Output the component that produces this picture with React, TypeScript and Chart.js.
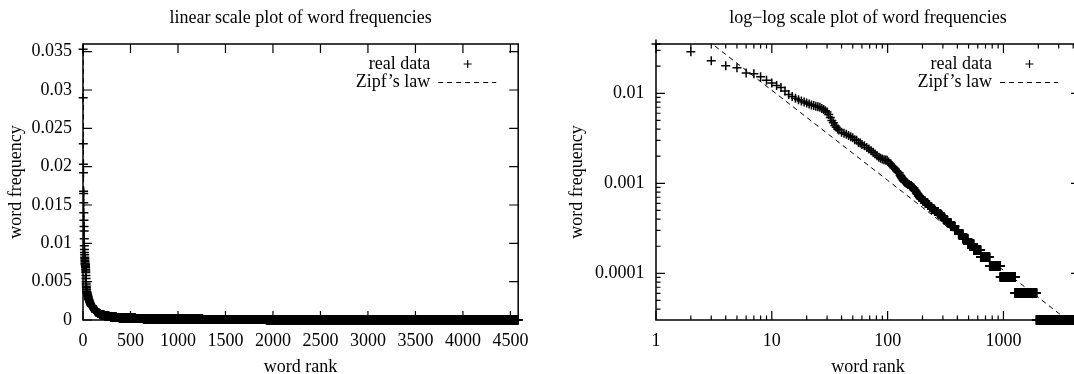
import React, { useEffect, useRef } from "react";
import { Chart, registerables } from "chart.js";

Chart.register(...registerables);

// ---------------- data ----------------
const TOTAL_WORDS = 33000; // word frequency = count / TOTAL_WORDS
const MAX_RANK = 4582;

// individually read head of the distribution (rank -> frequency)
const headRanks = [
  1, 2, 3, 4, 5, 6, 7, 8, 9, 10, 11, 12, 13, 14, 15, 16, 17, 18, 19, 20,
  21, 22, 23, 24, 25, 26, 27, 28, 29, 30, 31, 32, 33, 34, 35, 36, 37, 38,
  40, 42, 44, 46, 48, 50, 52, 54, 56, 58, 60, 63, 66, 69, 72, 75, 78, 81, 84, 87,
  90, 93, 96, 99, 102, 105, 108, 111, 114, 117, 120, 123, 126, 128,
];
const headFreqs = [
  0.0353, 0.029, 0.023, 0.0203, 0.0192, 0.0168, 0.0165, 0.0153, 0.014, 0.013,
  0.0122, 0.0116, 0.0106, 0.0097, 0.0092, 0.0088, 0.0085, 0.0082, 0.008, 0.0078,
  0.0076, 0.0074, 0.0073, 0.0072, 0.0071, 0.007, 0.0068, 0.0066, 0.0064, 0.0062,
  0.0058, 0.0054, 0.005, 0.0047, 0.0044, 0.0042, 0.004, 0.0039,
  0.0037, 0.0036, 0.0035, 0.0034, 0.0033, 0.0032, 0.00305, 0.003, 0.00285, 0.0028,
  0.0027, 0.00262, 0.0025, 0.0024, 0.0023, 0.00222, 0.00212, 0.00203, 0.00195, 0.0019,
  0.00186, 0.00183, 0.00181, 0.0018, 0.00172, 0.00165, 0.00159, 0.00154, 0.00148, 0.00142,
  0.00137, 0.00133, 0.0013, 0.00124,
];

// tail: plateaus of words sharing the same count (run-length: count, first rank)
const tailCounts = [
  40, 39, 38, 37, 36, 35, 34, 33, 32, 31, 30, 29, 28, 27, 26, 25, 24, 23, 22, 21,
  20, 19, 18, 17, 16, 15, 14, 13, 12, 11, 10, 9, 8, 7, 6, 5, 4, 3, 2, 1,
];
const tailStartRanks = [
  129, 131, 132, 134, 136, 138, 141, 145, 150, 155, 161, 165, 170, 173, 177, 180, 184, 189, 194, 201,
  211, 223, 231, 241, 255, 274, 290, 307, 328, 352, 381, 410, 447, 493, 554, 636, 760, 940, 1260, 1930,
];

// Zipf's law reference curve
const zipfRanks = [2.8, 3, 4, 5, 7, 10, 15, 20, 30, 50, 75, 100, 150, 200, 300, 500, 1000, 2000, 3000, 4582];
const zipfFreqs = [
  0.0386, 0.036, 0.027, 0.0216, 0.0154, 0.0108, 0.0072, 0.0054, 0.0036, 0.00216,
  0.00144, 0.00108, 0.00072, 0.00054, 0.00036, 0.000216, 0.000108, 0.000054, 0.000036, 0.0000236,
];

// axes
const linXTicks = [0, 500, 1000, 1500, 2000, 2500, 3000, 3500, 4000, 4500];
const linXLabels = ["0", "500", "1000", "1500", "2000", "2500", "3000", "3500", "4000", "4500"];
const linYTicks = [0, 0.005, 0.01, 0.015, 0.02, 0.025, 0.03, 0.035];
const linYLabels = ["0", "0.005", "0.01", "0.015", "0.02", "0.025", "0.03", "0.035"];
const logXTicks = [1, 10, 100, 1000];
const logXLabels = ["1", "10", "100", "1000"];
const logYTicks = [0.0001, 0.001, 0.01];
const logYLabels = ["0.0001", "0.001", "0.01"];

const LIN_Y_MAX = 0.036;
const LOG_Y_MAX = 0.0353;

const FONT_FAMILY = '"Liberation Serif", "Times New Roman", serif';
const FONT = { family: FONT_FAMILY, size: 18 };
const MARK_R = 4.5;
const MARK_W = 1.5;

function buildRealPoints() {
  const pts: { x: number; y: number }[] = [];
  headRanks.forEach((r, i) => pts.push({ x: r, y: headFreqs[i] }));
  tailCounts.forEach((c, i) => {
    const start = tailStartRanks[i];
    const end = i + 1 < tailStartRanks.length ? tailStartRanks[i + 1] - 1 : MAX_RANK;
    for (let r = start; r <= end; r++) pts.push({ x: r, y: c / TOTAL_WORDS });
  });
  return pts;
}

function buildZipfPoints() {
  return zipfRanks.map((r, i) => ({ x: r, y: zipfFreqs[i] }));
}

function axis(type: string, position: string, min: number, max: number, values: number[], labels: string[], pad: number, size: number) {
  return {
    type,
    position,
    min,
    max,
    bounds: "data",
    grid: { display: false, drawTicks: false },
    border: { display: false },
    ticks: {
      autoSkip: false,
      maxRotation: 0,
      minRotation: 0,
      padding: pad,
      color: "#000",
      font: FONT,
      callback: (_v: any, i: number) => labels[i],
    },
    afterBuildTicks: (s: any) => {
      s.ticks = values.map((v) => ({ value: v }));
    },
    afterFit: (s: any) => {
      if (s.isHorizontal()) s.height = size;
      else s.width = size;
      s.paddingLeft = 0;
      s.paddingRight = 0;
      s.paddingTop = 0;
      s.paddingBottom = 0;
    },
  };
}

type FrameCfg = {
  title: string;
  xTitle: string;
  yTitle: string;
  yTitleX: number;
  xMajor: number[];
  xMinor: number[];
  yMajor: number[];
  yMinor: number[];
};

function framePlugin(cfg: FrameCfg) {
  return {
    id: "gnuframe",
    afterDatasetsDraw(chart: any) {
      const { ctx, chartArea: a, scales } = chart;
      const xs = scales.x;
      const ys = scales.y;
      ctx.save();
      ctx.strokeStyle = "#000";
      ctx.fillStyle = "#000";
      ctx.setLineDash([]);

      // ticks
      ctx.lineWidth = 1.2;
      const drawX = (vals: number[], len: number) => {
        vals.forEach((v) => {
          const px = xs.getPixelForValue(v);
          if (px < a.left - 0.5 || px > a.right + 0.5) return;
          ctx.beginPath();
          ctx.moveTo(px, a.bottom);
          ctx.lineTo(px, a.bottom - len);
          ctx.moveTo(px, a.top);
          ctx.lineTo(px, a.top + len);
          ctx.stroke();
        });
      };
      const drawY = (vals: number[], len: number) => {
        vals.forEach((v) => {
          const py = ys.getPixelForValue(v);
          if (py < a.top - 0.5 || py > a.bottom + 0.5) return;
          ctx.beginPath();
          ctx.moveTo(a.left, py);
          ctx.lineTo(a.left + len, py);
          ctx.moveTo(a.right, py);
          ctx.lineTo(a.right - len, py);
          ctx.stroke();
        });
      };
      drawX(cfg.xMajor, 9);
      drawX(cfg.xMinor, 4.5);
      drawY(cfg.yMajor, 9);
      drawY(cfg.yMinor, 4.5);

      // border
      ctx.lineWidth = 1.5;
      ctx.strokeRect(a.left, a.top, a.right - a.left, a.bottom - a.top);

      // legend
      const R = a.right;
      const row1 = 64;
      const row2 = 82.5;
      ctx.font = `18px ${FONT_FAMILY}`;
      ctx.textAlign = "right";
      ctx.textBaseline = "middle";
      ctx.fillText("real data", R - 88, row1);
      ctx.fillText("Zipf\u2019s law", R - 88, row2);
      ctx.lineWidth = 1.2;
      const px = R - 50.5;
      ctx.beginPath();
      ctx.moveTo(px - 4, row1);
      ctx.lineTo(px + 4, row1);
      ctx.moveTo(px, row1 - 4);
      ctx.lineTo(px, row1 + 4);
      ctx.stroke();
      ctx.lineWidth = 1;
      ctx.setLineDash([5, 4]);
      ctx.beginPath();
      ctx.moveTo(R - 80, row2);
      ctx.lineTo(R - 22, row2);
      ctx.stroke();
      ctx.setLineDash([]);

      // titles
      const cx = (a.left + a.right) / 2;
      const cy = (a.top + a.bottom) / 2;
      ctx.textAlign = "center";
      ctx.textBaseline = "middle";
      ctx.fillText(cfg.title, cx, 18);
      ctx.fillText(cfg.xTitle, cx, 367);
      ctx.translate(cfg.yTitleX, cy);
      ctx.rotate(-Math.PI / 2);
      ctx.fillText(cfg.yTitle, 0, 0);
      ctx.restore();
    },
  };
}

function logMinors(decades: number[], lo: number, hi: number) {
  const out: number[] = [];
  decades.forEach((d) => {
    for (let m = 2; m <= 9; m++) {
      const v = m * d;
      if (v >= lo && v <= hi) out.push(v);
    }
  });
  return out;
}

function datasets() {
  return [
    {
      label: "real data",
      data: buildRealPoints(),
      showLine: false,
      pointStyle: "cross",
      pointRadius: MARK_R,
      pointHoverRadius: MARK_R,
      borderColor: "#000",
      backgroundColor: "#000",
      borderWidth: MARK_W,
      clip: 6,
    },
    {
      label: "Zipf\u2019s law",
      data: buildZipfPoints(),
      showLine: true,
      pointRadius: 0,
      borderColor: "#000",
      backgroundColor: "#000",
      borderWidth: 1,
      borderDash: [5, 4],
      fill: false,
      clip: 0.5,
    },
  ];
}

function baseOptions(padRight: number) {
  return {
    animation: false,
    responsive: false,
    devicePixelRatio: 1,
    events: [],
    layout: { padding: { left: 0, right: padRight, top: 44, bottom: 0 } },
    plugins: {
      legend: { display: false },
      tooltip: { enabled: false },
      title: { display: false },
    },
  };
}

export default function App() {
  const leftRef = useRef<HTMLCanvasElement>(null);
  const rightRef = useRef<HTMLCanvasElement>(null);

  useEffect(() => {
    const linChart = new Chart(leftRef.current as HTMLCanvasElement, {
      type: "scatter",
      data: { datasets: datasets() as any },
      options: {
        ...(baseOptions(18.8) as any),
        scales: {
          x: axis("linear", "bottom", 0, MAX_RANK, linXTicks, linXLabels, 10, 54),
          y: axis("linear", "left", 0, LIN_Y_MAX, linYTicks, linYLabels, 11, 83),
        } as any,
      },
      plugins: [
        framePlugin({
          title: "linear scale plot of word frequencies",
          xTitle: "word rank",
          yTitle: "word frequency",
          yTitleX: 16,
          xMajor: linXTicks,
          xMinor: [],
          yMajor: linYTicks,
          yMinor: [],
        }) as any,
      ],
    });

    const yMin = 1 / TOTAL_WORDS;
    const logChart = new Chart(rightRef.current as HTMLCanvasElement, {
      type: "scatter",
      data: { datasets: datasets() as any },
      options: {
        ...(baseOptions(10) as any),
        scales: {
          x: axis("logarithmic", "bottom", 1, MAX_RANK, logXTicks, logXLabels, 10, 54),
          y: axis("logarithmic", "left", yMin, LOG_Y_MAX, logYTicks, logYLabels, 11.5, 119),
        } as any,
      },
      plugins: [
        framePlugin({
          title: "log\u2212log scale plot of word frequencies",
          xTitle: "word rank",
          yTitle: "word frequency",
          yTitleX: 577 - 537,
          xMajor: logXTicks,
          xMinor: logMinors([1, 10, 100, 1000], 1, MAX_RANK),
          yMajor: logYTicks,
          yMinor: logMinors([0.00001, 0.0001, 0.001, 0.01], yMin, LOG_Y_MAX),
        }) as any,
      ],
    });

    return () => {
      linChart.destroy();
      logChart.destroy();
    };
  }, []);

  return (
    <div
      style={{
        position: "fixed",
        left: 0,
        top: 0,
        width: 1074,
        height: 374,
        overflow: "hidden",
        background: "#fff",
      }}
    >
      <canvas ref={leftRef} width={537} height={374} style={{ position: "absolute", left: 0, top: 0 }} />
      <canvas ref={rightRef} width={553} height={374} style={{ position: "absolute", left: 537, top: 0 }} />
    </div>
  );
}
